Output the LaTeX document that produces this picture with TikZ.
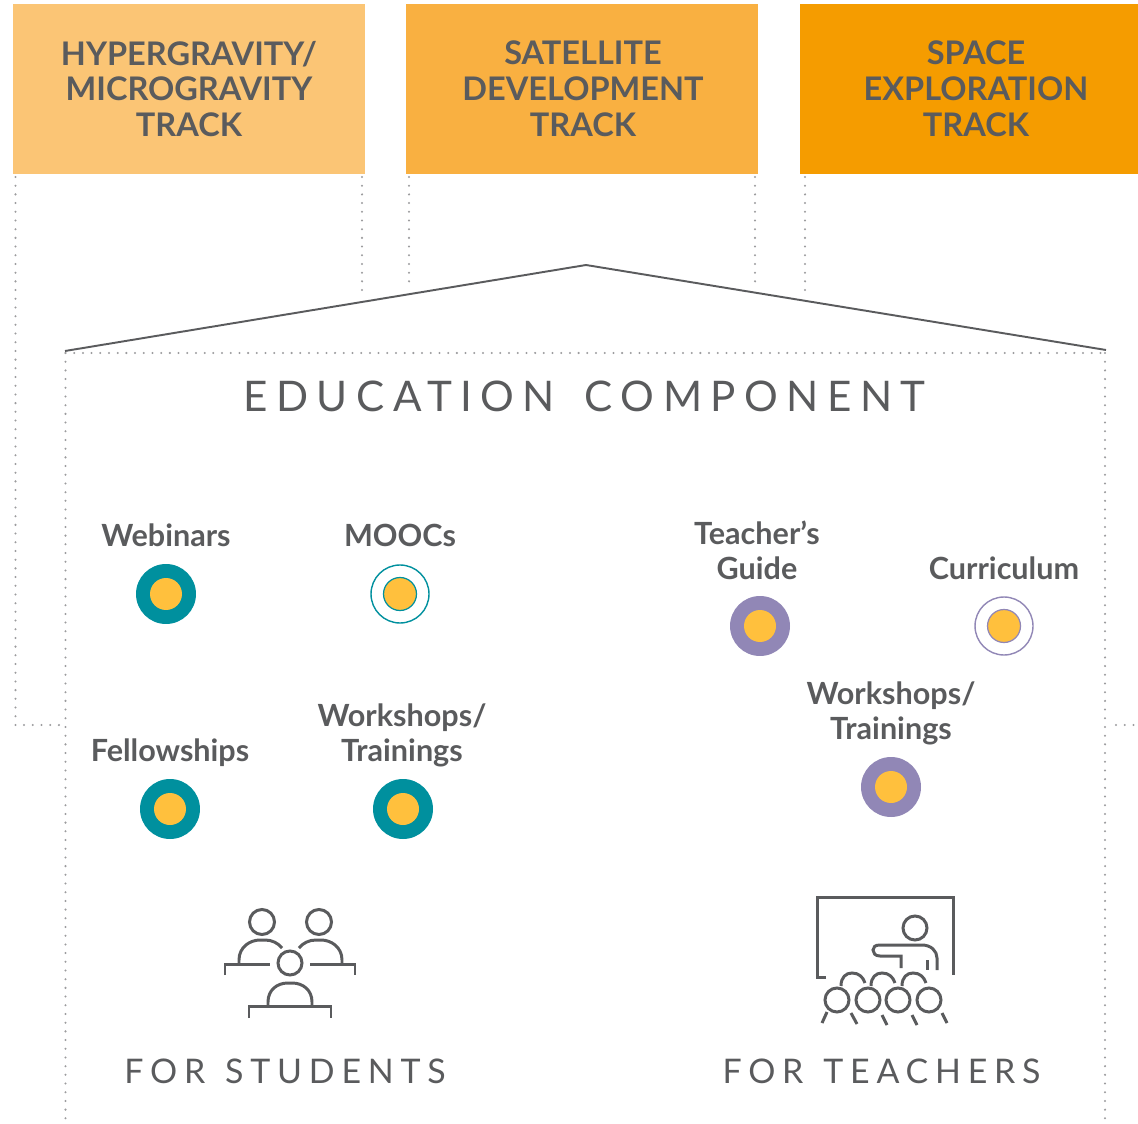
\documentclass[tikz,border=0pt]{standalone}
\usepackage{fontspec}
\setmainfont{Lato}
\definecolor{txt}{HTML}{5A5B5D}
\definecolor{trackA}{HTML}{FBC575}
\definecolor{trackB}{HTML}{F9B041}
\definecolor{trackC}{HTML}{F59C00}
\definecolor{teal}{HTML}{00909E}
\definecolor{purp}{HTML}{9187B6}
\definecolor{gold}{HTML}{FFC03D}
\definecolor{dotc}{HTML}{9C9C9E}
\newcommand{\trackfont}{\fontsize{18.5}{20.4}\selectfont\bfseries}
\newcommand{\itemfont}{\fontsize{17.4}{19.9}\selectfont\bfseries}
\tikzset{
  x=0.02cm,y=-0.02cm,
  trackbox/.style={fill=#1,draw=none,inner sep=0,anchor=north west,text=txt,align=center,font=\trackfont},
  dotline/.style={draw=dotc,line width=1.3pt,line cap=round,dash pattern=on 0pt off 4.95pt},
  roofline/.style={draw=txt,line width=1.1pt},
  itemlabel/.style={text=txt,align=center,font=\itemfont,inner sep=0},
  headline/.style={text=txt,font=\fontsize{24}{26}\selectfont\addfontfeature{LetterSpace=20},inner sep=0},
  subhead/.style={text=txt,font=\fontsize{19.3}{22}\selectfont\addfontfeature{LetterSpace=20},inner sep=0},
  solid dot/.style={circle,draw=none,fill=#1,minimum size=1.2cm,inner sep=0},
  ring dot/.style={circle,draw=#1,line width=0.8pt,fill=white,minimum size=1.16cm,inner sep=0},
  core/.style={circle,fill=gold,minimum size=0.64cm,inner sep=0},
  corering/.style={circle,fill=gold,draw=#1,line width=0.7pt,minimum size=0.66cm,inner sep=0},
  icon/.style={draw=#1,line width=1.7pt,line cap=butt,line join=miter},
  icon/.default=txt,
}
\begin{document}
\begin{tikzpicture}
\useasboundingbox (0,0) rectangle (1138,1124);
% dotted guides
\draw[dotline] (15.5,177) -- (15.5,725) -- (62,725);
\draw[dotline] (362,177) -- (362,297);
\draw[dotline] (409,177) -- (409,289);
\draw[dotline] (755,177) -- (755,289);
\draw[dotline] (805,177) -- (805,297);
\draw[dotline] (65.5,353) -- (1105,353);
\draw[dotline] (65.5,353) -- (65.5,1120);
\draw[dotline] (1105,353) -- (1105,1120);
\draw[dotline] (1116,725) -- (1138,725);
% track boxes
\node[trackbox=trackA,minimum width=7.04cm,minimum height=3.4cm] (boxA) at (13,4) {};
\node[trackbox=trackB,minimum width=7.04cm,minimum height=3.4cm] (boxB) at (406,4) {};
\node[trackbox=trackC,minimum width=6.76cm,minimum height=3.4cm] (boxC) at (800,4) {};
\node[text=txt,align=center,font=\trackfont,inner sep=0] (tA) at (189,89) {HYPERGRAVITY/\\MICROGRAVITY\\TRACK};
\node[text=txt,align=center,font=\trackfont,inner sep=0] (tB) at (583,89) {SATELLITE\\DEVELOPMENT\\TRACK};
\node[text=txt,align=center,font=\trackfont,inner sep=0] (tC) at (976,89) {SPACE\\EXPLORATION\\TRACK};
% roof
\coordinate (roofL) at (65,351);
\coordinate (roofT) at (586,265);
\coordinate (roofR) at (1106,350);
\draw[roofline] (roofL) -- (roofT) -- (roofR);
% headings
\node[headline] (edu) at (584.5,396) {EDUCATION\hspace{6pt} COMPONENT};
\node[subhead] (fs) at (285,1071) {FOR\hspace{2.5pt} STUDENTS};
\node[subhead] (ft) at (881.5,1071) {FOR\hspace{2.5pt} TEACHERS};
% labels
\node[itemlabel] (lWeb) at (166,535.5) {Webinars};
\node[itemlabel] (lMoo) at (400,535.5) {MOOCs};
\node[itemlabel] (lFel) at (170,753) {Fellowships};
\node[itemlabel] (lWs) at (402,735) {Workshops/\\Trainings};
\node[itemlabel] (lTg) at (757,550) {Teacher’s\\Guide};
\node[itemlabel] (lCur) at (1004,568.5) {Curriculum};
\node[itemlabel] (lWt) at (891,713.5) {Workshops/\\Trainings};
% dots
\node[solid dot=teal] (dWeb) at (166,594) {};
\node[core] at (dWeb) {};
\node[ring dot=teal] (dMoo) at (400,594) {};
\node[corering=teal] at (dMoo) {};
\node[solid dot=teal] (dFel) at (170,809) {};
\node[core] at (dFel) {};
\node[solid dot=teal] (dWs) at (403,809) {};
\node[core] at (dWs) {};
\node[solid dot=purp] (dTg) at (760,626) {};
\node[core] at (dTg) {};
\node[ring dot=purp] (dCur) at (1004,626) {};
\node[corering=purp] at (dCur) {};
\node[solid dot=purp] (dWt) at (891,787) {};
\node[core] at (dWt) {};
% students icon
\begin{scope}[icon]
\draw (262,922) circle[radius=12.5];
\draw (319,922) circle[radius=12.5];
\draw (290,963) circle[radius=12];
\draw (239,964) -- (239,960) .. controls (239,947) and (250,940) .. (260,940) -- (265,940) .. controls (272,940) and (278,943) .. (282,948);
\draw (342,964) -- (342,960) .. controls (342,947) and (331,940) .. (321,940) -- (316,940) .. controls (309,940) and (303,943) .. (299,948);
\draw (225,975) -- (225,964) -- (270,964);
\draw (310,964) -- (355,964) -- (355,975);
\draw (268,1006) -- (268,1002) .. controls (268,990) and (277,983) .. (288,983) -- (292,983) .. controls (303,983) and (312,990) .. (312,1002) -- (312,1006);
\draw (249,1018) -- (249,1006) -- (331,1006) -- (331,1018);
\end{scope}
% teachers icon
\begin{scope}[icon]
\draw (826,977) -- (817,977) -- (817,897) -- (953,897) -- (953,975);
\draw (915,928) circle[radius=12];
\draw (901,968) -- (901,956) -- (880,956) .. controls (875,956) and (873,953) .. (873,950) .. controls (873,947) and (875,945) .. (880,945) -- (922,945) .. controls (931,945) and (937,951) .. (937,958) -- (937,970);
\draw (927,960) -- (927,970);
\foreach \x in {837,868,898,929} \draw (\x,1000) circle[radius=12];
\foreach \x in {852,882,913} \draw (\x-11,986) .. controls (\x-11,977) and (\x-6,973) .. (\x,973) .. controls (\x+7,973) and (\x+11,977) .. (\x+13,983);
\draw (822,1023) -- (827,1012);
\draw (851,1013) -- (857,1024);
\draw (882,1015) -- (887,1025);
\draw (912,1015) -- (917,1025);
\draw (942,1013) -- (947,1023);
\end{scope}
\end{tikzpicture}
\end{document}
